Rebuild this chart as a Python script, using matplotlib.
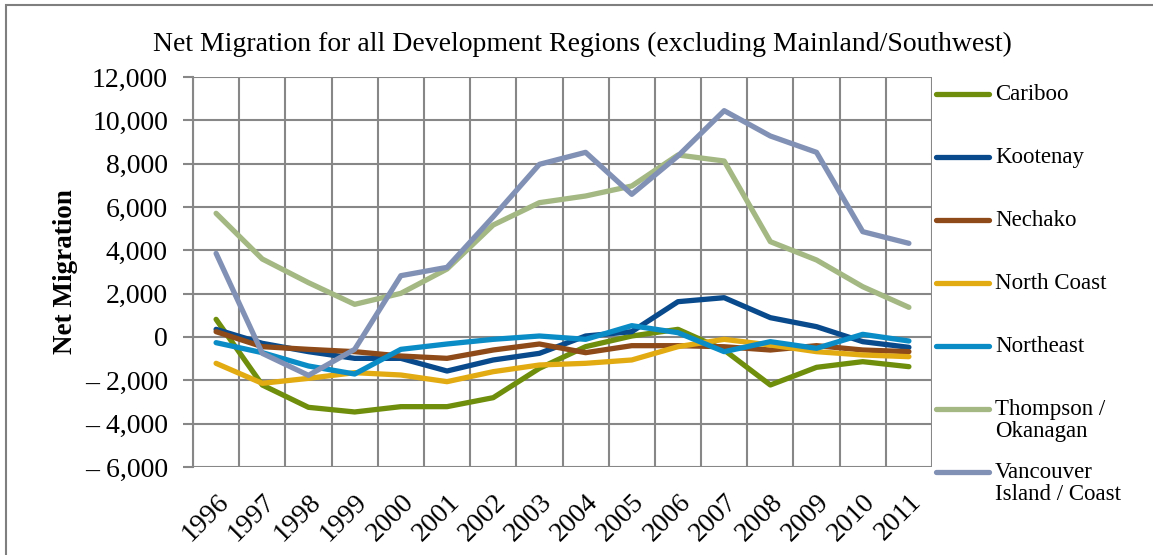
import matplotlib.pyplot as plt
from matplotlib.patches import Rectangle
from matplotlib.lines import Line2D
from matplotlib.ticker import FuncFormatter

plt.rcParams['font.family'] = ['Liberation Serif', 'DejaVu Serif']

years = [str(y) for y in range(1996, 2012)]

cariboo = [815, -2215, -3246, -3460, -3215, -3215, -2800, -1446,
           -446, 46, 354, -600, -2215, -1400, -1138, -1369]
kootenay = [354, -292, -677, -985, -985, -1570, -1060, -754,
            46, 246, 1630, 1815, 892, 477, -215, -477]
nechako = [246, -446, -570, -677, -877, -985, -600, -323,
           -723, -400, -400, -450, -600, -400, -600, -677]
north_coast = [-1215, -2138, -1908, -1646, -1754, -2062, -1600, -1292,
               -1215, -1060, -446, -108, -370, -677, -830, -908]
northeast = [-262, -723, -1338, -1708, -570, -323, -108, 46,
             -108, 523, 200, -677, -215, -523, 123, -185]
thompson = [5708, 3600, 2508, 1508, 2015, 3138, 5170, 6200,
            6508, 6970, 8400, 8123, 4400, 3554, 2323, 1369]
vancouver = [3860, -754, -1770, -570, 2830, 3215, 5550, 7970,
             8523, 6585, 8354, 10446, 9277, 8523, 4862, 4323]

series = [
    ("Cariboo", cariboo, "#6f8e0c"),
    ("Kootenay", kootenay, "#084a8c"),
    ("Nechako", nechako, "#8e4a18"),
    ("North Coast", north_coast, "#e3ab12"),
    ("Northeast", northeast, "#0a8cc6"),
    ("Thompson /\nOkanagan", thompson, "#a3b883"),
    ("Vancouver\nIsland / Coast", vancouver, "#8190b5"),
]

W, H = 1153, 555
fig = plt.figure(figsize=(W / 100, H / 100), dpi=100)
ax = fig.add_axes([193 / W, 1 - 467 / H, (932 - 193) / W, (467 - 77) / H])

# chart border
fig.patches.append(Rectangle((6 / W, -0.1), 1.2, 1 - 5 / H + 0.1,
                             transform=fig.transFigure, fill=False,
                             edgecolor="#7f7f7f", linewidth=1.5))

x = list(range(len(years)))
for name, vals, col in series:
    ax.plot(x, vals, color=col, linewidth=3.8,
            solid_capstyle="round", solid_joinstyle="round", zorder=3)

ax.set_xlim(-0.5, len(years) - 0.5)
ax.set_ylim(-6000, 12000)
ax.set_yticks(range(-6000, 12001, 2000))

def fmt(v, pos):
    v = int(v)
    if v < 0:
        return "\u2013 {:,}".format(-v)
    return "{:,}".format(v)

ax.yaxis.set_major_formatter(FuncFormatter(fmt))
ax.set_xticks(x)
ax.set_xticklabels(years, rotation=45, ha="right", rotation_mode="anchor")
ax.set_xticks([i - 0.5 for i in range(len(years) + 1)], minor=True)

ax.grid(True, which="major", axis="y", color="#878787", linewidth=1.5, zorder=1)
ax.grid(True, which="minor", axis="x", color="#878787", linewidth=1.5, zorder=1)
ax.tick_params(axis="x", which="both", length=0, labelsize=20, pad=16)
ax.tick_params(axis="y", length=7, width=1.5, color="#878787", labelsize=20, pad=11)

for s in ["top", "right", "bottom"]:
    ax.spines[s].set_visible(False)
ax.spines["left"].set_color("#878787")
ax.spines["left"].set_linewidth(1.5)

ax.set_ylabel("Net Migration", fontsize=19.5, fontweight="bold", labelpad=5)
fig.text(582 / W, 1 - 44 / H,
         "Net Migration for all Development Regions (excluding Mainland/Southwest)",
         ha="center", va="center", fontsize=20)

# legend, laid out like the original
leg_y = [94, 157, 220, 283, 346, 409, 472]
for (name, vals, col), yy in zip(series, leg_y):
    fy = 1 - yy / H
    fig.add_artist(Line2D([936 / W, 989 / W], [fy, fy], color=col, linewidth=3.8,
                          solid_capstyle="round", transform=fig.transFigure))
    fig.text(995 / W, 1 - (yy - 10) / H, name, ha="left", va="top",
             fontsize=16.5, linespacing=1.05)

fig.savefig("out.png", dpi=100)
